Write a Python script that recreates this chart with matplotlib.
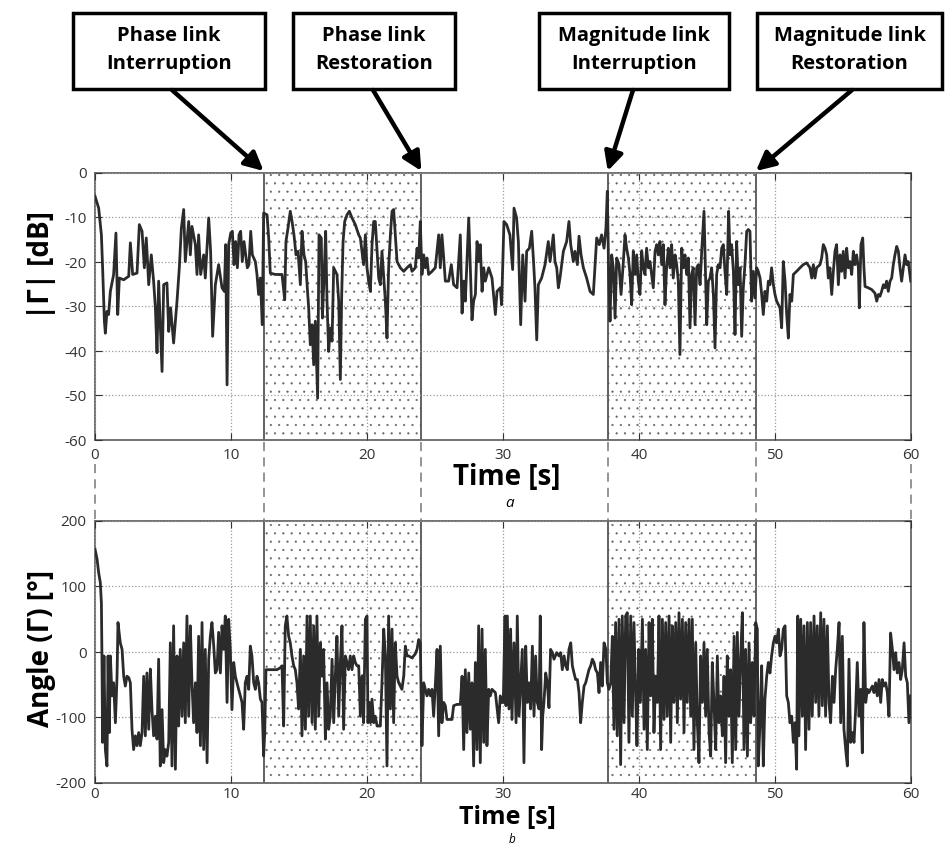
import matplotlib
matplotlib.use("Agg")
import matplotlib.pyplot as plt
from matplotlib.patches import Rectangle, FancyArrowPatch
from matplotlib.lines import Line2D

# |Gamma| [dB] trace
t_mag = [0.00, 0.27, 0.47, 0.56, 0.69, 0.76, 0.88, 1.00, 1.13, 1.37, 1.54, 1.67, 1.79, 2.11, 2.48, 2.60, 2.77, 3.09, 3.26, 3.46,
         3.63, 3.77, 3.95, 4.14, 4.31, 4.44, 4.56, 4.68, 4.93, 5.05, 5.29, 5.42, 5.56, 5.78, 6.03, 6.20, 6.35, 6.52, 6.64, 6.89,
         7.01, 7.13, 7.38, 7.50, 7.62, 7.77, 7.99, 8.11, 8.36, 8.50, 8.65, 8.85, 9.09, 9.34, 9.51, 9.61, 9.71, 9.83, 9.98, 10.10,
         10.22, 10.34, 10.47, 10.59, 10.71, 10.83, 10.96, 11.08, 11.20, 11.32, 11.45, 11.57, 11.79, 11.91, 12.03, 12.16, 12.30, 12.40, 12.65, 12.77,
         12.89, 13.26, 13.75, 13.95, 14.04, 14.19, 14.36, 14.49, 14.63, 14.78, 14.93, 15.10, 15.22, 15.37, 15.49, 15.61, 15.71, 15.83, 15.96, 16.08,
         16.20, 16.37, 16.47, 16.64, 16.72, 16.84, 16.96, 17.06, 17.18, 17.30, 17.43, 17.55, 17.79, 17.92, 18.04, 18.14, 18.24, 18.36, 18.53, 18.70,
         18.90, 19.14, 19.39, 19.51, 19.63, 19.75, 19.88, 20.00, 20.12, 20.25, 20.37, 20.49, 20.61, 20.74, 20.86, 20.98, 21.10, 21.35, 21.47, 21.59,
         21.72, 21.84, 21.96, 22.08, 22.21, 22.45, 22.70, 22.94, 23.19, 23.31, 23.55, 23.68, 23.80, 23.92, 24.04, 24.17, 24.29, 24.41, 24.53, 24.78,
         25.02, 25.27, 25.39, 25.51, 25.64, 25.76, 26.00, 26.20, 26.37, 26.62, 26.86, 26.99, 27.11, 27.23, 27.48, 27.60, 27.72, 27.84, 27.97, 28.09,
         28.21, 28.33, 28.46, 28.58, 28.70, 28.95, 29.19, 29.44, 29.56, 29.80, 29.90, 30.07, 30.27, 30.51, 30.71, 30.81, 31.00, 31.13, 31.30, 31.45,
         31.62, 31.74, 31.94, 32.11, 32.23, 32.35, 32.48, 32.60, 32.84, 33.09, 33.33, 33.46, 33.70, 33.82, 33.95, 34.07, 34.19, 34.44, 34.68, 34.85,
         34.98, 35.17, 35.29, 35.47, 35.59, 35.74, 35.91, 36.15, 36.40, 36.64, 36.89, 37.08, 37.25, 37.43, 37.57, 37.67, 37.77, 37.87, 37.99, 38.11,
         38.24, 38.36, 38.53, 38.68, 38.85, 38.97, 39.09, 39.22, 39.34, 39.46, 39.58, 39.71, 39.83, 39.95, 40.07, 40.20, 40.32, 40.44, 40.56, 40.69,
         40.81, 40.93, 41.05, 41.18, 41.30, 41.42, 41.54, 41.67, 41.79, 41.91, 42.03, 42.16, 42.28, 42.40, 42.52, 42.65, 42.77, 42.89, 43.01, 43.14,
         43.26, 43.38, 43.50, 43.63, 43.75, 43.87, 43.99, 44.12, 44.24, 44.36, 44.49, 44.61, 44.78, 44.88, 44.98, 45.10, 45.22, 45.34, 45.47, 45.59,
         45.71, 45.83, 45.96, 46.08, 46.20, 46.32, 46.45, 46.59, 46.69, 46.81, 46.94, 47.06, 47.18, 47.30, 47.43, 47.55, 47.67, 47.79, 47.92, 48.04,
         48.16, 48.28, 48.41, 48.53, 48.65, 48.77, 48.90, 49.02, 49.14, 49.26, 49.39, 49.51, 49.63, 49.75, 49.88, 50.00, 50.12, 50.37, 50.49, 50.61,
         50.74, 50.86, 50.98, 51.10, 51.23, 51.35, 51.59, 51.84, 52.08, 52.33, 52.57, 52.70, 52.82, 52.94, 53.06, 53.31, 53.43, 53.55, 53.68, 53.80,
         53.92, 54.04, 54.17, 54.29, 54.41, 54.53, 54.66, 54.78, 54.90, 55.02, 55.15, 55.27, 55.39, 55.51, 55.64, 55.76, 55.88, 56.00, 56.13, 56.20,
         56.32, 56.45, 56.54, 56.62, 56.86, 57.11, 57.35, 57.48, 57.60, 57.72, 57.84, 57.97, 58.09, 58.21, 58.33, 58.46, 58.58, 58.70, 58.82, 58.95,
         59.07, 59.19, 59.31, 59.44, 59.56, 59.68, 59.80, 59.98]
mag_db = [-5.2, -7.9, -13.9, -21.3, -33.3, -36.0, -31.1, -31.8, -26.6, -22.8, -13.5, -31.8, -23.6, -24.0, -23.2, -15.7, -22.8, -22.5, -11.6, -13.1,
          -21.3, -14.6, -25.1, -18.4, -24.3, -30.3, -40.4, -24.3, -44.6, -25.1, -24.7, -35.6, -30.3, -38.2, -28.8, -21.3, -12.4, -8.2, -19.9, -10.9,
          -18.4, -12.0, -16.1, -22.8, -13.9, -22.8, -18.4, -23.6, -10.1, -17.6, -36.7, -25.1, -20.6, -25.8, -26.6, -16.1, -47.6, -16.1, -13.5, -13.1,
          -20.6, -15.4, -21.3, -13.9, -13.1, -19.9, -15.4, -18.4, -21.3, -20.6, -13.1, -18.4, -19.9, -22.8, -27.3, -23.6, -34.1, -9.0, -9.4, -14.6,
          -22.5, -22.8, -22.8, -28.5, -15.4, -12.4, -8.6, -10.9, -13.9, -18.4, -17.6, -25.1, -13.1, -18.4, -19.9, -25.8, -30.3, -38.6, -34.1, -43.1,
          -33.3, -50.6, -13.9, -14.6, -32.6, -23.6, -13.1, -28.8, -40.1, -34.8, -37.8, -21.3, -22.8, -28.8, -46.4, -27.3, -15.4, -10.9, -9.4, -8.6,
          -10.1, -11.6, -13.9, -14.6, -17.6, -20.6, -13.9, -21.3, -24.3, -26.6, -16.1, -10.9, -10.9, -17.6, -23.6, -25.1, -17.6, -28.8, -37.1, -21.3,
          -13.9, -8.6, -8.2, -13.9, -19.9, -21.3, -22.1, -21.3, -20.6, -22.1, -21.3, -16.9, -19.1, -10.9, -22.8, -18.4, -21.3, -19.1, -22.8, -22.1,
          -21.3, -13.9, -21.3, -13.9, -19.1, -24.3, -24.3, -20.6, -25.1, -25.8, -13.9, -31.5, -24.3, -28.8, -10.1, -21.3, -33.0, -28.8, -27.3, -15.4,
          -19.9, -16.1, -26.6, -21.3, -24.3, -21.3, -23.6, -31.8, -26.6, -25.8, -29.6, -10.9, -11.6, -13.9, -21.7, -7.9, -10.1, -15.4, -34.1, -18.4,
          -28.8, -17.6, -16.9, -13.1, -19.1, -25.8, -37.5, -25.1, -23.6, -20.6, -15.4, -19.9, -13.9, -19.9, -21.3, -25.8, -23.6, -17.6, -15.4, -10.9,
          -16.1, -19.9, -17.6, -20.6, -14.2, -18.4, -21.3, -23.6, -26.6, -27.3, -14.6, -16.1, -13.9, -16.9, -12.4, -4.1, -22.8, -33.3, -18.4, -21.3,
          -32.6, -19.1, -20.6, -27.3, -19.9, -13.9, -16.9, -19.1, -22.8, -29.6, -17.6, -22.8, -18.4, -24.3, -27.3, -17.6, -21.3, -22.8, -16.9, -21.3,
          -19.9, -22.8, -25.8, -17.6, -16.1, -18.4, -15.4, -20.6, -16.1, -29.6, -21.3, -16.9, -21.3, -16.1, -23.6, -18.4, -20.6, -24.3, -40.8, -16.9,
          -21.3, -18.4, -22.8, -19.1, -34.8, -22.8, -21.3, -34.1, -21.3, -20.6, -25.1, -17.6, -8.6, -21.3, -34.1, -24.3, -23.6, -21.3, -27.3, -39.3,
          -22.8, -20.6, -21.3, -16.9, -16.1, -22.1, -27.3, -8.6, -18.4, -16.1, -22.1, -36.3, -15.4, -25.1, -21.3, -36.7, -25.8, -20.6, -13.1, -12.7,
          -13.1, -28.8, -22.1, -28.1, -21.3, -22.1, -23.6, -27.3, -31.8, -26.6, -28.8, -24.3, -25.1, -21.3, -25.1, -27.3, -28.8, -30.3, -34.8, -19.9,
          -24.3, -31.8, -37.1, -27.3, -28.8, -22.8, -22.1, -21.3, -20.6, -20.2, -21.3, -23.6, -20.6, -23.6, -21.3, -20.6, -19.1, -16.1, -16.9, -18.4,
          -23.6, -21.3, -27.3, -22.1, -17.6, -16.1, -25.1, -18.4, -22.1, -17.6, -23.6, -16.9, -21.3, -19.9, -22.8, -17.6, -20.6, -18.4, -21.3, -30.3,
          -16.1, -14.6, -21.3, -25.5, -25.8, -26.2, -27.0, -28.8, -27.3, -27.7, -26.6, -25.1, -25.8, -24.3, -26.6, -24.3, -23.6, -20.6, -18.4, -16.5,
          -17.6, -21.3, -24.3, -21.3, -18.4, -20.6, -19.9, -24.3]

# Angle(Gamma) [deg] trace
t_ang = [0.00, 0.15, 0.27, 0.39, 0.47, 0.51, 0.56, 0.66, 0.76, 0.88, 0.96, 1.05, 1.13, 1.25, 1.37, 1.50, 1.62, 1.69, 1.86, 1.99,
         2.11, 2.23, 2.35, 2.48, 2.60, 2.72, 2.84, 2.97, 3.09, 3.21, 3.33, 3.46, 3.58, 3.70, 3.82, 3.95, 4.07, 4.19, 4.31, 4.44,
         4.56, 4.68, 4.80, 4.93, 5.05, 5.17, 5.29, 5.42, 5.54, 5.66, 5.78, 5.91, 6.03, 6.15, 6.27, 6.40, 6.52, 6.64, 6.76, 6.89,
         7.01, 7.13, 7.25, 7.38, 7.50, 7.62, 7.75, 7.87, 7.99, 8.11, 8.24, 8.36, 8.48, 8.60, 8.73, 8.85, 8.97, 9.09, 9.22, 9.34,
         9.46, 9.58, 9.71, 9.83, 9.95, 10.07, 10.20, 10.32, 10.44, 10.56, 10.69, 10.81, 10.93, 11.05, 11.18, 11.30, 11.42, 11.54, 11.67, 11.79,
         11.91, 12.03, 12.16, 12.28, 12.40, 12.48, 12.57, 12.77, 13.01, 13.38, 13.63, 13.75, 13.87, 13.99, 14.11, 14.24, 14.36, 14.48, 14.61, 14.73,
         14.85, 14.97, 15.10, 15.22, 15.34, 15.47, 15.59, 15.71, 15.83, 15.96, 16.08, 16.20, 16.32, 16.45, 16.57, 16.69, 16.81, 16.94, 17.06, 17.18,
         17.30, 17.43, 17.55, 17.67, 17.79, 17.92, 18.04, 18.16, 18.28, 18.41, 18.53, 18.65, 18.77, 18.90, 19.02, 19.14, 19.26, 19.39, 19.51, 19.63,
         19.75, 19.88, 20.00, 20.07, 20.17, 20.25, 20.37, 20.49, 20.61, 20.74, 20.86, 20.98, 21.10, 21.23, 21.35, 21.47, 21.59, 21.72, 21.84, 21.96,
         22.08, 22.21, 22.33, 22.45, 22.57, 22.70, 22.82, 22.94, 23.06, 23.31, 23.55, 23.68, 23.80, 23.92, 24.04, 24.17, 24.29, 24.41, 24.53, 24.66,
         24.78, 24.90, 25.02, 25.15, 25.27, 25.39, 25.51, 25.64, 25.76, 25.88, 26.12, 26.25, 26.37, 26.62, 26.86, 26.99, 27.11, 27.23, 27.35, 27.48,
         27.60, 27.72, 27.84, 27.97, 28.09, 28.21, 28.33, 28.46, 28.58, 28.70, 28.82, 28.95, 29.07, 29.19, 29.44, 29.68, 29.80, 29.90, 30.02, 30.15,
         30.22, 30.32, 30.44, 30.56, 30.66, 30.81, 30.96, 31.05, 31.18, 31.30, 31.42, 31.54, 31.67, 31.79, 31.91, 32.03, 32.16, 32.28, 32.40, 32.52,
         32.65, 32.74, 32.84, 32.92, 33.01, 33.14, 33.26, 33.38, 33.50, 33.63, 33.75, 33.95, 34.12, 34.24, 34.36, 34.49, 34.61, 34.73, 34.85, 34.98,
         35.10, 35.22, 35.34, 35.47, 35.59, 35.71, 35.83, 35.96, 36.08, 36.20, 36.32, 36.45, 36.57, 36.69, 36.81, 36.94, 37.06, 37.18, 37.30, 37.43,
         37.57, 37.67, 37.79, 37.92, 38.04, 38.16, 38.28, 38.40, 38.53, 38.65, 38.77, 38.90, 39.02, 39.14, 39.26, 39.39, 39.51, 39.63, 39.75, 39.85,
         39.98, 40.10, 40.25, 40.37, 40.49, 40.61, 40.74, 40.86, 40.98, 41.10, 41.23, 41.35, 41.47, 41.59, 41.72, 41.84, 41.96, 42.08, 42.21, 42.33,
         42.45, 42.57, 42.70, 42.82, 42.94, 43.06, 43.19, 43.31, 43.43, 43.55, 43.68, 43.80, 43.92, 44.04, 44.17, 44.29, 44.41, 44.53, 44.66, 44.78,
         44.90, 45.02, 45.15, 45.27, 45.39, 45.51, 45.64, 45.76, 45.88, 46.00, 46.13, 46.25, 46.37, 46.49, 46.62, 46.74, 46.86, 46.99, 47.11, 47.23,
         47.35, 47.48, 47.60, 47.72, 47.84, 47.97, 48.09, 48.21, 48.33, 48.46, 48.58, 48.70, 48.77, 48.90, 49.02, 49.14, 49.26, 49.39, 49.51, 49.63,
         49.75, 49.88, 50.00, 50.12, 50.25, 50.37, 50.49, 50.61, 50.74, 50.86, 50.98, 51.10, 51.23, 51.35, 51.47, 51.59, 51.67, 51.76, 51.89, 52.01,
         52.13, 52.25, 52.38, 52.50, 52.62, 52.74, 52.87, 52.99, 53.11, 53.23, 53.36, 53.48, 53.60, 53.72, 53.85, 53.97, 54.09, 54.22, 54.34, 54.46,
         54.58, 54.71, 54.83, 54.95, 55.07, 55.20, 55.32, 55.44, 55.56, 55.69, 55.81, 55.93, 56.05, 56.18, 56.30, 56.42, 56.54, 56.67, 56.79, 56.91,
         57.03, 57.16, 57.28, 57.40, 57.52, 57.65, 57.77, 57.89, 58.01, 58.14, 58.26, 58.38, 58.50, 58.63, 58.75, 58.87, 58.99, 59.12, 59.24, 59.36,
         59.49, 59.61, 59.73, 59.85, 59.98]
ang_deg = [157, 142, 121, 106, 75, -6, -138, -6, -149, -174, -6, -123, -6, -67, -47, -108, -37, 45, 14, 4,
           -37, -52, -37, -39, -47, -118, -149, -128, -143, -123, -143, -123, -37, -128, -32, -118, -26, -88, -128, -98,
           -133, -11, -174, -88, -169, -149, -159, -138, 14, -174, 40, -179, -6, -113, 4, -98, 14, -108, 55, -98,
           40, -47, -108, -47, -123, 24, -143, 45, -149, 4, -169, -11, 24, 45, 9, -32, -27, 30, -32, 40,
           4, 55, -77, 50, 4, -88, -16, -37, -47, -57, -67, -77, -118, -47, -37, -57, 9, -6, -47, -57,
           -37, -47, -72, -77, -159, -123, -27, -27, -27, -27, -24, -21, -113, 40, 55, 24, 14, -6, -21, -27,
           -47, -87, 4, -128, -6, -118, 55, -98, 55, -108, 40, -118, 55, -98, 14, -37, 4, -133, -47, -118,
           -98, -11, -108, -37, 24, -98, -16, 40, -118, -6, -16, -27, -6, -27, -6, -16, -21, -21, -98, -37,
           -108, 50, 55, -108, -77, -108, -72, -108, -98, -113, -113, -113, -47, 35, -6, -174, 55, -87, 35, -108,
           14, -37, -47, -52, -57, -37, 9, -6, -6, -9, -3, 4, 19, 14, -143, -47, -57, -67, -57, -67,
           -57, -98, -52, 4, -128, 9, -108, -77, -82, -103, -103, -103, -82, -80, -80, -37, -149, -27, -123, -32,
           -118, -47, -174, -16, -149, 40, -169, 35, -138, 4, -143, -57, -67, -57, -62, -108, -67, -77, -77, 55,
           -82, 55, -87, 35, -103, 14, -108, 55, -98, -47, 4, -169, 9, -77, -47, -87, 9, -98, -6, -77,
           -87, 55, -149, -98, -77, -32, -47, -85, 4, -1, -11, -1, -6, -1, -27, -6, -21, -27, 4, 14,
           -21, -32, -42, -42, -62, -108, -77, -52, -47, -37, -27, -21, -11, -16, -27, -32, -62, -16, -52, 14,
           4, -47, -57, -47, 24, -118, 45, -128, 50, -172, 55, -108, 55, 60, -138, 55, -98, 45, -62, -143,
           4, -77, 50, -118, 4, -149, 45, -67, 50, -123, -37, -77, 55, -149, 50, -103, 45, -98, 55, -138,
           40, -77, 45, -108, 60, -72, 50, -123, 45, -77, 50, -98, 50, -149, 14, -108, -169, -6, -77, 14,
           -98, 4, -123, -159, -16, -77, -149, -6, -108, -67, -128, -37, -169, -6, -98, -27, -169, 24, -149, 30,
           -98, -6, 60, -149, 4, -159, 14, -108, -16, -98, 45, 35, -174, -108, -21, -174, -72, -37, -16, -32,
           -6, 14, 24, 14, 35, -6, 4, 35, 40, -67, -77, -108, -98, -138, -108, -179, 55, -128, 50, -98,
           40, -149, 45, -118, 45, -98, 55, -77, 40, -98, 60, -82, 50, -98, 40, -77, -108, -37, -77, -27,
           4, 45, -108, 24, -118, -149, -174, -11, -138, -123, -138, -87, -16, -98, -57, -154, 45, -77, -57, -62,
           -57, -52, -62, -47, -67, -42, -77, -42, -52, -47, -62, -98, 29, 4, -27, -1, -32, -16, -42, -27,
           14, -37, -47, -108, -67]

# interruption / restoration instants [s]
event_t = [12.4, 24.0, 37.7, 48.6]
event_txt = ["Phase link\nInterruption", "Phase link\nRestoration",
             "Magnitude link\nInterruption", "Magnitude link\nRestoration"]
spans = [(12.4, 24.0), (37.7, 48.6)]

plt.rcParams.update({
    "font.family": ["Open Sans", "DejaVu Sans"],
    "axes.unicode_minus": False,
    "hatch.linewidth": 0.35,
})

W, H = 949, 846
fig = plt.figure(figsize=(W / 100, H / 100), dpi=100)


def fx(px):
    return px / W


def fy(py):
    return 1 - py / H


ax1 = fig.add_axes([fx(95), fy(440), fx(911) - fx(95), fy(173) - fy(440)])
ax2 = fig.add_axes([fx(95), fy(783), fx(911) - fx(95), fy(521) - fy(783)])

trace_col = "#2b2b2b"
for ax, t, y, ylim, yt in [(ax1, t_mag, mag_db, (-60, 0), range(-60, 1, 10)),
                           (ax2, t_ang, ang_deg, (-200, 200), range(-200, 201, 100))]:
    for a, b in spans:
        ax.axvspan(a, b, facecolor="white", edgecolor="#666666", hatch="..", lw=0, zorder=0)
    for e in event_t:
        ax.axvline(e, color="#555555", lw=1.3, zorder=1)
    ax.plot(t, y, color=trace_col, lw=2.0, zorder=3)
    ax.set_xlim(0, 60)
    ax.set_ylim(*ylim)
    ax.set_yticks(list(yt))
    ax.set_xticks(range(0, 61, 10))
    ax.grid(True, ls=":", color="#9a9a9a", lw=0.9)
    ax.set_axisbelow(False)
    ax.tick_params(direction="in", top=True, right=True, length=5, labelsize=11,
                   colors="#333333", pad=6)
    for s in ax.spines.values():
        s.set_color("#666666")
        s.set_linewidth(1.3)
ax2.tick_params(axis="x", pad=3)

# axis titles
fig.text(fx(42), fy(265), "|Γ| [dB]", rotation=90, ha="center", va="center",
         fontsize=20, fontweight="bold")
fig.text(fx(42), fy(648), "Angle (Γ) [°]", rotation=90, ha="center", va="center",
         fontsize=20, fontweight="bold")
fig.text(fx(507), fy(477), "Time [s]", ha="center", va="center", fontsize=20, fontweight="bold")
fig.text(fx(507), fy(817), "Time [s]", ha="center", va="center", fontsize=18, fontweight="bold")
fig.text(fx(510), fy(503), "a", ha="center", va="center", fontsize=11, style="italic")
fig.text(fx(512), fy(846), "b", ha="center", va="bottom", fontsize=8.5, style="italic")

# dashed links between the two panels
for e in [0] + event_t + [60]:
    xp = 95 + e * (911 - 95) / 60
    y0 = 464 if e in (0, 60) else 442
    fig.add_artist(Line2D([fx(xp), fx(xp)], [fy(y0), fy(520)], color="#777777", lw=1.1,
                          ls=(0, (6, 4)), transform=fig.transFigure))

# event boxes and arrows
boxes = [(73, 265), (293, 455), (539, 729), (757, 942)]
tails = [(172, 90), (373, 90), (633, 90), (852, 90)]
for (x0, x1), txt, (tx, ty), e in zip(boxes, event_txt, tails, event_t):
    fig.add_artist(Rectangle((fx(x0), fy(89)), fx(x1) - fx(x0), fy(13) - fy(89),
                             transform=fig.transFigure, facecolor="white", edgecolor="black", lw=2.5))
    fig.text(fx((x0 + x1) / 2), fy(50), txt, ha="center", va="center", fontsize=14.5,
             fontweight="bold", linespacing=1.55)
    hx = 95 + e * (911 - 95) / 60
    fig.add_artist(FancyArrowPatch((fx(tx), fy(ty)), (fx(hx), fy(171)), transform=fig.transFigure,
                                   arrowstyle="-|>", mutation_scale=28, lw=3.2, color="black",
                                   shrinkA=0, shrinkB=0))

fig.savefig("out.png", dpi=100)
